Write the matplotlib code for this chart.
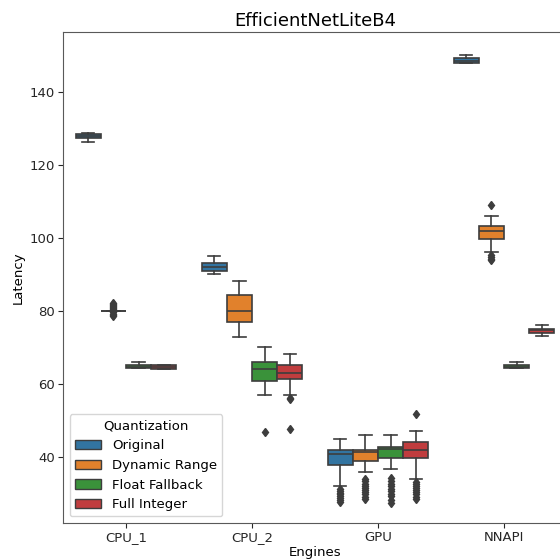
import matplotlib
matplotlib.use("Agg")
import matplotlib.pyplot as plt
from matplotlib.patches import Patch

engines = ["CPU_1", "CPU_2", "GPU", "NNAPI"]
quant = ["Original", "Dynamic Range", "Float Fallback", "Full Integer"]
colors = ["#3274a1", "#e1812c", "#3a923a", "#c03d3e"]

# box stats: [whislo, q1, med, q3, whishi] per engine
original = [[126.3, 127.3, 127.8, 128.3, 128.6],
            [90.1, 90.9, 92.0, 93.2, 95.0],
            [32.1, 38.0, 41.0, 41.9, 45.1],
            [147.9, 147.9, 148.5, 149.2, 150.1]]
dynamic = [[80.0, 80.0, 80.0, 80.0, 80.0],
           [73.0, 77.0, 80.0, 84.3, 88.1],
           [36.0, 38.9, 41.3, 41.9, 46.2],
           [96.1, 99.7, 101.8, 103.2, 106.1]]
floatfb = [[64.4, 64.4, 64.8, 65.1, 66.1],
           [56.9, 60.8, 64.0, 66.0, 70.1],
           [36.9, 39.8, 42.2, 42.8, 46.2],
           [64.3, 64.3, 64.8, 65.2, 66.0]]
fullint = [[64.2, 64.2, 64.7, 65.2, 65.2],
           [56.9, 61.5, 62.9, 65.1, 68.1],
           [34.0, 39.8, 41.9, 44.1, 47.1],
           [73.1, 74.1, 74.7, 75.2, 76.1]]

# outliers
fl_original = [[], [], [27.8, 28.3, 28.8, 29.3, 29.8, 30.3, 30.8, 31.3], []]
fl_dynamic = [[78.7, 79.0, 79.3, 79.6, 80.4, 80.7, 81.0, 81.3, 81.6, 81.9, 82.2],
              [],
              [28.6, 29.2, 29.8, 30.4, 31.0, 31.6, 32.2, 32.8, 33.4, 34.0],
              [108.9, 95.2, 94.7, 94.3, 93.9]]
fl_float = [[], [46.9],
            [27.6, 28.3, 29.3, 30.0, 30.7, 31.4, 32.1, 32.8, 33.5, 34.2], []]
fl_full = [[], [56.3, 55.8, 47.8],
           [51.9, 28.6, 29.2, 29.8, 30.4, 31.0, 31.6, 32.2, 32.8, 33.3], []]

series = [original, dynamic, floatfb, fullint]
fliers = [fl_original, fl_dynamic, fl_float, fl_full]

fig = plt.figure(figsize=(5.6, 5.6), dpi=100)
ax = fig.add_axes([63 / 560, 1 - 523 / 560, 504 / 560, 491 / 560])

gray = "#3d3d3d"
lw = 1.2
for j, (s, fl) in enumerate(zip(series, fliers)):
    stats = []
    for i in range(len(engines)):
        lo, q1, med, q3, hi = s[i]
        stats.append(dict(whislo=lo, q1=q1, med=med, q3=q3, whishi=hi, fliers=fl[i]))
    pos = [i + (j - 1.5) * 0.2 for i in range(len(engines))]
    ax.bxp(stats, positions=pos, widths=0.196, patch_artist=True, manage_ticks=False,
           boxprops=dict(facecolor=colors[j], edgecolor=gray, linewidth=lw),
           medianprops=dict(color=gray, linewidth=lw),
           whiskerprops=dict(color=gray, linewidth=lw),
           capprops=dict(color=gray, linewidth=lw),
           flierprops=dict(marker="d", markerfacecolor=gray, markeredgecolor=gray,
                           markersize=4.5, linestyle="none"))

ax.set_xticks(range(len(engines)))
ax.set_xticklabels(engines)
ax.set_xlim(-0.5, 3.5)
ax.set_ylim(22, 156.3)
ax.tick_params(labelsize=9.5, colors="#262626", pad=2.5)
for sp in ax.spines.values():
    sp.set_color("0.35")
ax.set_xlabel("Engines", fontsize=9.5, labelpad=1)
ax.set_ylabel("Latency", fontsize=9.5, labelpad=3)
ax.set_title("EfficientNetLiteB4", fontsize=13, pad=4)

handles = [Patch(facecolor=c, edgecolor=gray, label=q) for c, q in zip(colors, quant)]
ax.legend(handles=handles, title="Quantization", loc="lower left", fontsize=9.5,
          title_fontsize=9.5)

fig.savefig("out.png", dpi=100)
